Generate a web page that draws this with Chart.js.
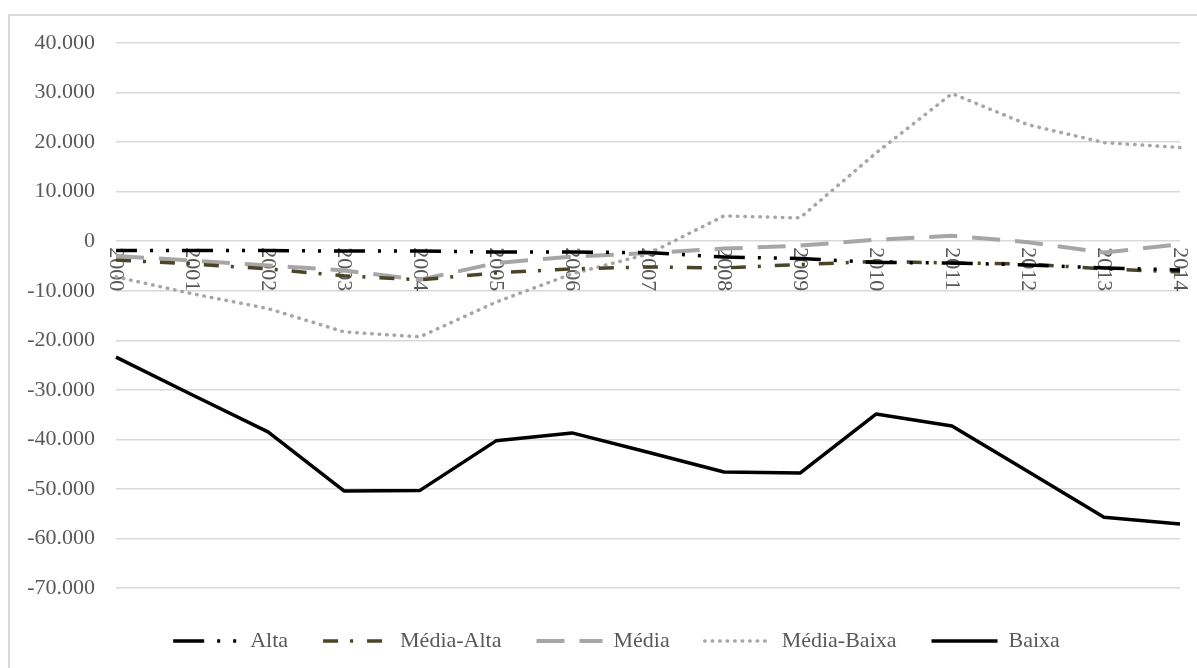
<!DOCTYPE html>
<html>
<head>
<meta charset="utf-8">
<script src="https://cdn.jsdelivr.net/npm/chart.js@4"></script>
<style>
  html, body { margin: 0; padding: 0; background: #ffffff; }
  body { width: 1197px; height: 668px; position: relative; overflow: hidden; }
  #frame {
    position: absolute; left: 8px; top: 14px; width: 1300px; height: 800px;
    border: 2px solid #d9d9d9; box-sizing: border-box;
  }
  #chart { position: absolute; left: 0; top: 0; }
</style>
</head>
<body>
<div id="frame"></div>
<canvas id="chart" width="1197" height="668"></canvas>
<script>
// Categories (years) and the five series
const years = ['2000','2001','2002','2003','2004','2005','2006','2007','2008','2009','2010','2011','2012','2013','2014'];
const seriesNames = ['Alta', 'Média-Alta', 'Média', 'Média-Baixa', 'Baixa'];

const alta       = [-1900, -1900, -1900, -2000, -2000, -2200, -2200, -2300, -3200, -3500, -4300, -4400, -4800, -5400, -5800];
const mediaAlta  = [-3800, -4600, -5600, -7000, -7800, -6400, -5600, -5200, -5400, -4700, -4100, -4400, -4600, -5600, -6200];
const media      = [-3000, -3900, -4900, -5900, -7800, -4400, -3100, -2400, -1500, -900, 300, 1100, -200, -2300, -600];
const mediaBaixa = [-7200, -10600, -13600, -18300, -19300, -12300, -6600, -2600, 5100, 4700, 17800, 29800, 23500, 19900, 18900];
const baixa      = [-23400, -31000, -38500, -50400, -50300, -40300, -38700, -42600, -46600, -46800, -34900, -37300, -46500, -55700, -57100];

// Value-axis tick values
const yTickValues = [40000, 30000, 20000, 10000, 0, -10000, -20000, -30000, -40000, -50000, -60000, -70000];

const FONT = '"Liberation Serif", "Times New Roman", serif';
const TEXT = '#595959';
const SAMPLE_WIDTH = 66;

function fmt(v) {
  const s = Math.abs(v).toString().replace(/\B(?=(\d{3})+(?!\d))/g, '.');
  return (v < 0 ? '-' : '') + s;
}

// Line styles per series
const styles = [
  { color: '#000000', width: 3.5, dash: [31, 13, 3, 13, 3, 13], offset: 10, cap: 'butt' },
  { color: '#4a4528', width: 3.5, dash: [15, 12, 3, 14], offset: 0, cap: 'butt' },
  { color: '#a6a6a6', width: 4, dash: [28, 15], offset: 0, cap: 'butt' },
  { color: '#a6a6a6', width: 3.5, dash: [0.5, 7], offset: 0, cap: 'round' },
  { color: '#000000', width: 3.5, dash: [], offset: 0, cap: 'butt' }
];
const values = [alta, mediaAlta, media, mediaBaixa, baixa];

const datasets = seriesNames.map((name, i) => ({
  label: name,
  data: values[i],
  borderColor: styles[i].color,
  backgroundColor: styles[i].color,
  borderWidth: styles[i].width,
  borderDash: styles[i].dash,
  borderDashOffset: styles[i].offset,
  borderCapStyle: styles[i].cap,
  borderJoinStyle: 'round',
  pointRadius: 0,
  pointHoverRadius: 0,
  tension: 0,
  fill: false
}));

// Year labels written downward from the zero line, beneath the lines
const yearLabels = {
  id: 'yearLabels',
  beforeDatasetsDraw(chart) {
    const xs = chart.scales.x, ys = chart.scales.y;
    const y0 = ys.getPixelForValue(0);
    const ctx = chart.ctx;
    ctx.save();
    ctx.font = '22px ' + FONT;
    ctx.fillStyle = TEXT;
    ctx.textAlign = 'left';
    ctx.textBaseline = 'middle';
    years.forEach((yr, i) => {
      const x = xs.getPixelForValue(i);
      ctx.save();
      ctx.translate(x, y0 + 6);
      ctx.rotate(Math.PI / 2);
      ctx.fillText(yr, 0, 0);
      ctx.restore();
    });
    ctx.restore();
  }
};

// Legend row is nudged right; its line samples are drawn with each series' dash pattern
const legendSamples = {
  id: 'legendSamples',
  afterLayout(chart) {
    const lg = chart.legend;
    if (lg) { lg.left += 26.5; lg.right += 26.5; }
  },
  afterDraw(chart) {
    const lg = chart.legend;
    if (!lg || !lg.legendHitBoxes) return;
    const ctx = chart.ctx;
    lg.legendHitBoxes.forEach((hb, i) => {
      const st = styles[i];
      const y = hb.top + hb.height / 2;
      ctx.save();
      ctx.strokeStyle = st.color;
      ctx.lineWidth = st.width;
      ctx.lineCap = st.cap;
      ctx.setLineDash(st.dash);
      ctx.lineDashOffset = 0;
      ctx.beginPath();
      ctx.moveTo(hb.left, y);
      ctx.lineTo(hb.left + SAMPLE_WIDTH, y);
      ctx.stroke();
      ctx.restore();
    });
  }
};

new Chart(document.getElementById('chart'), {
  type: 'line',
  data: { labels: years, datasets },
  plugins: [yearLabels, legendSamples],
  options: {
    responsive: false,
    animation: false,
    devicePixelRatio: 1,
    layout: { padding: { left: 0, right: 17, top: 43, bottom: 6 } },
    plugins: {
      tooltip: { enabled: false },
      legend: {
        position: 'bottom',
        labels: {
          usePointStyle: true,
          pointStyle: 'line',
          pointStyleWidth: SAMPLE_WIDTH,
          padding: 35,
          color: TEXT,
          font: { family: FONT, size: 22 },
          generateLabels(chart) {
            const items = Chart.defaults.plugins.legend.labels.generateLabels(chart);
            items.forEach((it) => {
              it.strokeStyle = 'rgba(0,0,0,0)';
              it.fillStyle = 'rgba(0,0,0,0)';
              it.lineWidth = 0;
              it.pointStyle = 'line';
            });
            return items;
          }
        }
      }
    },
    scales: {
      x: {
        type: 'category',
        offset: false,
        grid: { display: false },
        border: { display: false },
        ticks: { display: false },
        afterFit(scale) { scale.height = 7; }
      },
      y: {
        min: -70000,
        max: 40000,
        afterBuildTicks(scale) { scale.ticks = yTickValues.map(v => ({ value: v })); },
        grid: { color: '#d9d9d9', lineWidth: 1.5, drawTicks: false },
        border: { display: false },
        ticks: {
          padding: 21,
          color: TEXT,
          font: { family: FONT, size: 22 },
          callback: (v) => fmt(v)
        },
        afterFit(scale) { scale.width = 116; }
      }
    }
  }
});
</script>
</body>
</html>
